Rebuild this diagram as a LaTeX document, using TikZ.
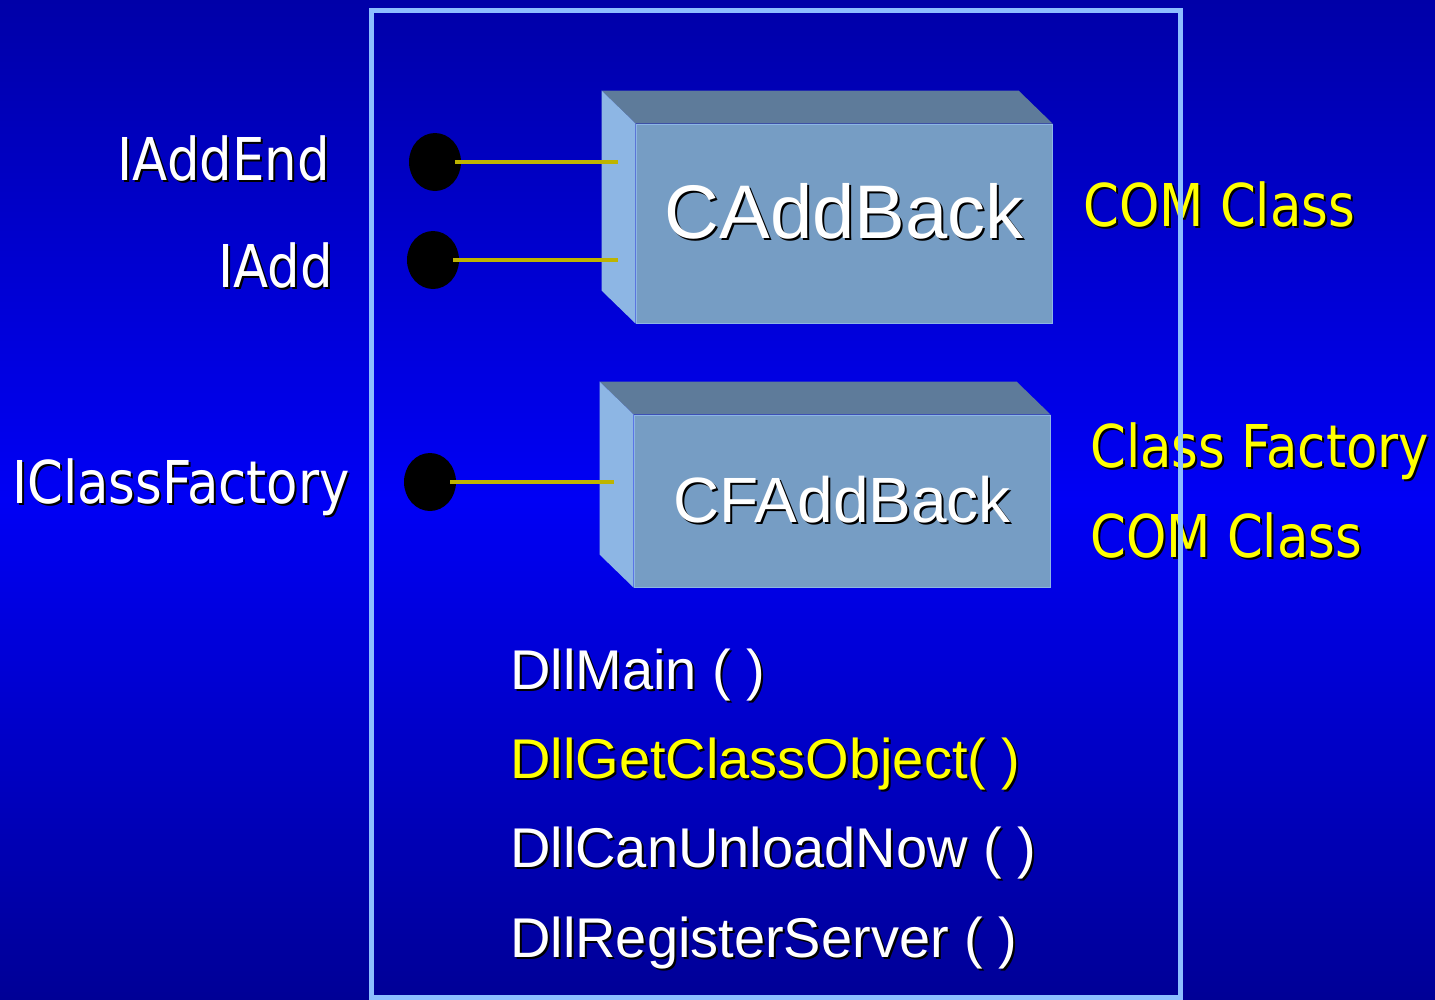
\documentclass[tikz,border=0pt]{standalone}
\usepackage{fontspec}
\setmainfont{DejaVu Sans}[FakeStretch=0.87]
\newfontfamily\arialfont{Liberation Sans}
\usetikzlibrary{calc,positioning,shapes.geometric}

\definecolor{bgtop}{RGB}{0,0,168}
\definecolor{bgmid}{RGB}{0,0,245}
\definecolor{bgbot}{RGB}{0,0,150}
\definecolor{framecol}{RGB}{140,190,255}
\definecolor{facefront}{RGB}{118,157,196}
\definecolor{facetop}{RGB}{94,123,154}
\definecolor{faceleft}{RGB}{141,182,228}
\definecolor{wirecol}{RGB}{190,180,0}
\definecolor{comyellow}{RGB}{255,255,0}

\newcommand\shadowtext[1]{\makebox[0pt][l]{\hspace{2pt}\raisebox{-2pt}{\color{black}#1}}#1}

\tikzset{
	iface/.style={ellipse, fill=black, minimum width=52pt, minimum height=58pt, inner sep=0pt},
	wire/.style={draw=wirecol, line width=4pt},
	front/.style={fill=facefront, draw=faceleft, line width=1pt, inner sep=0pt, text=white, minimum width=416pt},
	lbl/.style={text=white, inner sep=0pt, font=\fontsize{59}{70}\selectfont},
	ylbl/.style={lbl, text=comyellow, anchor=base west},
	fn/.style={text=white, inner sep=0pt, anchor=base west, font=\arialfont\fontsize{56}{66}\selectfont},
}

\begin{document}
\begin{tikzpicture}[x=1pt, y=-1pt]
	\useasboundingbox (0,0) rectangle (1435,999);
	\shade[top color=bgtop, bottom color=bgmid] (0,0) rectangle (1435,500);
	\shade[top color=bgmid, bottom color=bgbot] (0,500) rectangle (1435,999);

	% the two classes
	\node[front, minimum height=199pt, text depth=26pt, font=\arialfont\fontsize{76}{90}\selectfont] (caddback) at (844,223.5) {\shadowtext{CAddBack}};
	\node[front, minimum height=172pt, font=\arialfont\fontsize{64}{76}\selectfont] (cfaddback) at (842,501) {\shadowtext{CFAddBack}};
	\foreach \b in {caddback,cfaddback} {
		\fill[facetop] (\b.north west) -- ++(-34,-33) -- ($(\b.north east)+(-34,-33)$) -- (\b.north east) -- cycle;
		\fill[faceleft] (\b.north west) -- ++(-34,-33) -- ($(\b.south west)+(-34,-33)$) -- (\b.south west) -- cycle;
	}
	\coordinate (faceA) at ([xshift=-18pt]caddback.west);
	\coordinate (faceB) at ([xshift=-20pt]cfaddback.west);

	% interfaces
	\node[iface] (iaddend) at (435,162) {};
	\node[iface] (iadd) at (433,260) {};
	\node[iface] (iclassfactory) at (430,482) {};
	\draw[wire] ([xshift=-6pt]iaddend.east) -- (faceA |- iaddend.east);
	\draw[wire] ([xshift=-6pt]iadd.east) -- (faceA |- iadd.east);
	\draw[wire] ([xshift=-6pt]iclassfactory.east) -- (faceB |- iclassfactory.east);

	\node[lbl, anchor=base east] (lbliaddend) at (330,180) {\shadowtext{IAddEnd}};
	\node[lbl, anchor=base east] (lbliadd) at (333,287) {\shadowtext{IAdd}};
	\node[lbl, anchor=base east] (lbliclassfactory) at (350,503) {\shadowtext{IClassFactory}};

	\node[ylbl] (lblcom) at (1083,226) {\shadowtext{COM Class}};
	\node[ylbl] (lblfactory) at (1090,467) {\shadowtext{Class Factory}};
	\node[ylbl] (lblfactorycom) at (1090,557) {\shadowtext{COM Class}};

	% exported functions
	\node[fn] (dllmain) at (510,689) {\shadowtext{DllMain ( )}};
	\node[fn, text=comyellow] (dllgetclassobject) at (510,778) {\shadowtext{DllGetClassObject( )}};
	\node[fn] (dllcanunloadnow) at (510,867) {\shadowtext{DllCanUnloadNow ( )}};
	\node[fn] (dllregisterserver) at (510,957) {\shadowtext{DllRegisterServer ( )}};

	\draw[framecol, line width=5pt] (371,10) rectangle (1180,997);
\end{tikzpicture}
\end{document}
